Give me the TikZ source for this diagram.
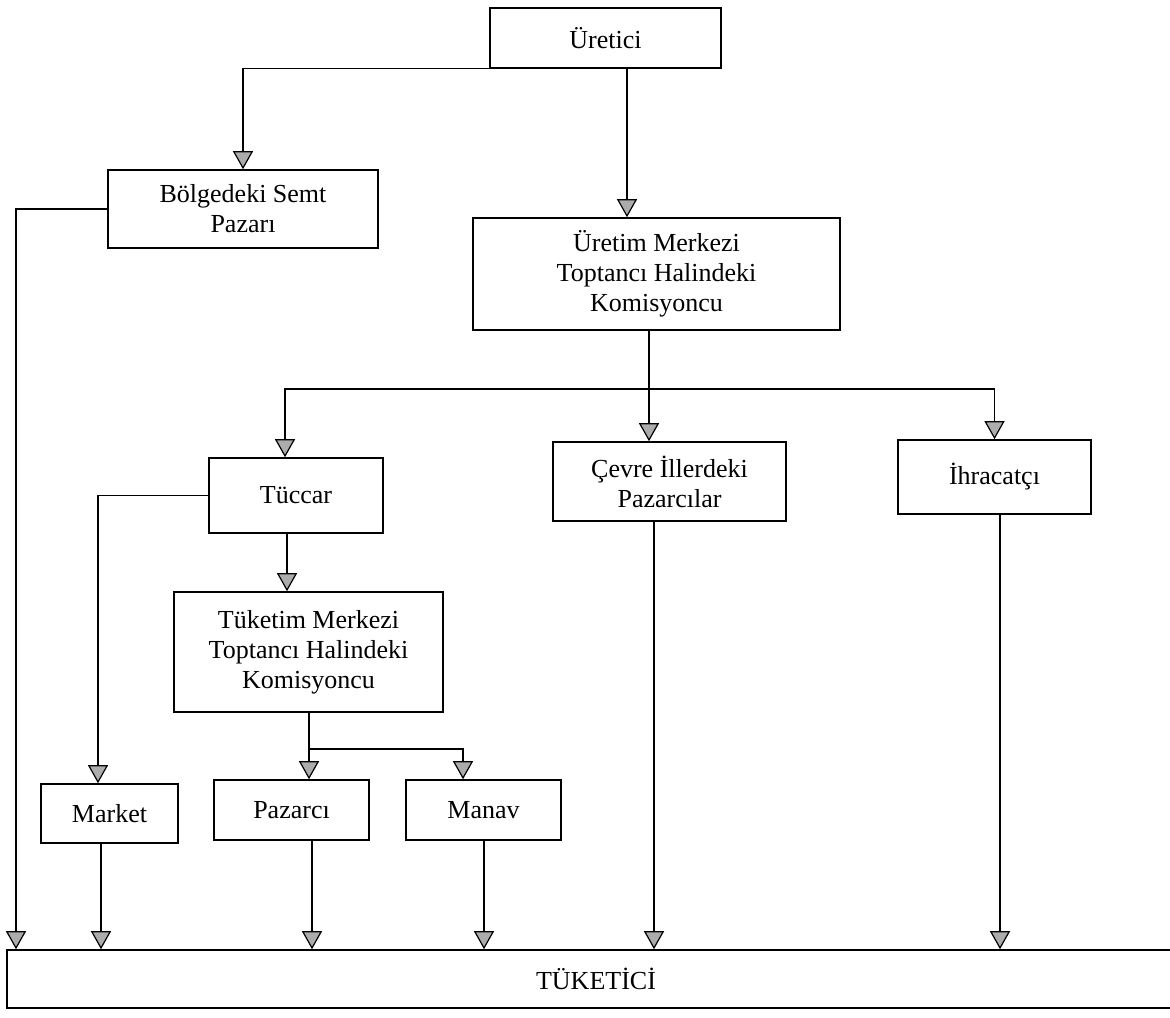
\documentclass[tikz,border=0pt]{standalone}
\usepackage{fontspec}
\setmainfont{Liberation Serif}
\usetikzlibrary{positioning}
\usetikzlibrary{arrows.meta}
\usetikzlibrary{calc}
\tikzset{>={Triangle[width=10pt,length=9pt,fill=gray!65]}}
\tikzset{agent/.style 2 args={draw, line width=0.8pt, align=center, inner sep=0pt,
    minimum width=#1*0.5pt, minimum height=#2*0.5pt, font=\fontsize{13}{15}\selectfont}}

\begin{document}
\begin{tikzpicture}[x=0.5pt, y=-0.5pt, line width=0.6pt]
            \useasboundingbox (0,0) rectangle (1170,1017);
            \node[agent={231}{60}] (Ur) at (605.5,38) {Üretici};
            \node[agent={270}{78}] (Semt) at (243,209) {Bölgedeki Semt\\Pazarı};
            \node[agent={367}{112}] (UrM) at (656.5,274) {Üretim Merkezi\\Toptancı Halindeki\\Komisyoncu};
            \node[agent={174}{75}] (Tuc) at (296,495.5) {Tüccar};
            \node[agent={233}{79}] (Cev) at (669.5,481.5) {Çevre İllerdeki\\Pazarcılar};
            \node[agent={193}{74}] (Ihr) at (994.5,477) {İhracatçı};
            \node[agent={269}{120}] (TukM) at (308.5,652) {Tüketim Merkezi\\Toptancı Halindeki\\Komisyoncu};
            \node[agent={137}{59}] (Mar) at (109.5,813.5) {Market};
            \node[agent={155}{60}] (Paz) at (291.5,810) {Pazarcı};
            \node[agent={155}{60}] (Man) at (483.5,810) {Manav};
            \node[agent={1178}{58}] (Tuk) at (596,979) {TÜKETİCİ};
            % where the connectors run
            \coordinate (xUr) at (627,0);
            \coordinate (jUr) at (649,389);
            \coordinate (xTuc) at (285,0);
            \coordinate (xL) at (16,0);
            \coordinate (xMar) at (98,0);
            \coordinate (xTukM) at (287,0);
            \coordinate (jTuk) at (309,749);
            \coordinate (xMan) at (463,0);
            \coordinate (bMar) at (101,0);
            \coordinate (bPaz) at (312,0);
            \coordinate (bMan) at (484,0);
            \coordinate (bCev) at (654,0);
            \coordinate (bIhr) at (1000,0);
            \draw[->] (Ur.south west) -| (Semt.north);
            \draw[->] (Ur.south -| xUr) -- (UrM.north -| xUr);
            \draw (UrM.south -| jUr) -- (jUr);
            \draw[->] (jUr) -- (Cev.north -| jUr);
            \draw[->] (jUr) -| (Ihr.north);
            \draw[->] (jUr) -| (Tuc.north -| xTuc);
            \draw[->] (Semt.west) -| (Tuk.north -| xL);
            \draw[->] (Tuc.west) -| (Mar.north -| xMar);
            \draw[->] (Tuc.south -| xTukM) -- (TukM.north -| xTukM);
            \draw (TukM.south -| jTuk) -- (jTuk);
            \draw[->] (jTuk) -- (Paz.north -| jTuk);
            \draw[->] (jTuk) -| (Man.north -| xMan);
            \draw[->] (Mar.south -| bMar) -- (Tuk.north -| bMar);
            \draw[->] (Paz.south -| bPaz) -- (Tuk.north -| bPaz);
            \draw[->] (Man.south -| bMan) -- (Tuk.north -| bMan);
            \draw[->] (Cev.south -| bCev) -- (Tuk.north -| bCev);
            \draw[->] (Ihr.south -| bIhr) -- (Tuk.north -| bIhr);
        \end{tikzpicture}
\end{document}
